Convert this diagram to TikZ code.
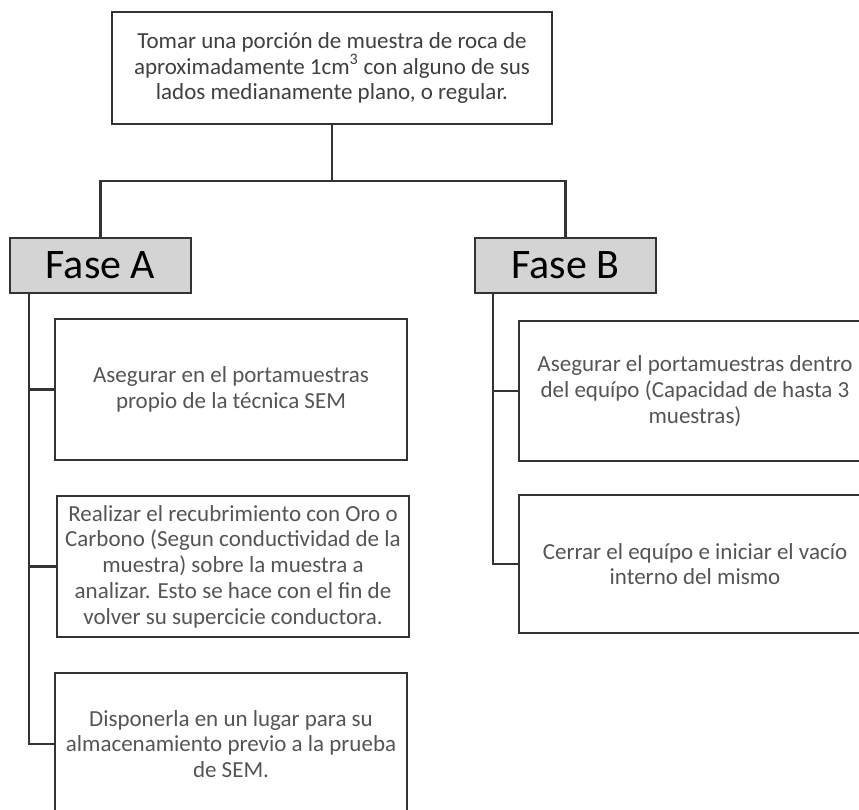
\documentclass[tikz,border=0pt]{standalone}
\usepackage{fontspec}
\setmainfont{Carlito}
\usepackage{xcolor}
\usepackage{tikz}
\usetikzlibrary{positioning,calc}

\definecolor{linegray}{HTML}{333333}
\definecolor{textgray}{HTML}{555555}
\definecolor{fasegray}{HTML}{D4D4D4}

\begin{document}
\begin{tikzpicture}[
    x=1pt, y=1pt,
    box/.style={rectangle, draw=linegray, line width=2.4pt, fill=white, align=center, minimum width=352pt, minimum height=140pt, text=textgray, font=\fontsize{23}{25.8}\selectfont},
    fase/.style={rectangle, draw=linegray, line width=2.4pt, fill=fasegray, minimum width=181pt, minimum height=55pt, font=\fontsize{42}{42}\selectfont},
    conn/.style={draw=linegray, line width=2.4pt}
]
\useasboundingbox (0,0) rectangle (859,-809);

% Start
\node[box, minimum width=440pt, minimum height=112pt, text=black!75] (sample) at (332,-68) {Tomar una porción de muestra de roca de\\aproximadamente 1cm\textsuperscript{3} con alguno de sus\\lados medianamente plano, o regular.};

% Phases
\node[fase] (faseA) at (100.5,-265.5) {Fase A};
\node[fase] (faseB) at (565.5,-265.5) {Fase B};

% Phase A steps
\node[box, minimum height=141pt] (fixA) at (231,-389.5) {Asegurar en el portamuestras\\propio de la técnica SEM};
\node[box, minimum height=141pt] (coat) at (233,-566.5) {Realizar el recubrimiento con Oro o\\Carbono (Segun conductividad de la\\muestra) sobre la muestra a\\analizar. Esto se hace con el fin de\\volver su supercicie conductora.};
\node[box, minimum height=142pt] (store) at (231,-744) {Disponerla en un lugar para su\\almacenamiento previo a la prueba\\de SEM.};

% Phase B steps
\node[box] (fixB) at (695,-391) {Asegurar el portamuestras dentro\\del equípo (Capacidad de hasta 3\\muestras)};
\node[box, minimum height=138pt] (vacuum) at (695,-564) {Cerrar el equípo e iniciar el vacío\\interno del mismo};

% Connectors
\coordinate (split) at (332,-181);
\coordinate (spineA) at (29,-293);
\coordinate (spineB) at (493,-293);
\draw[conn] (sample) -- (split);
\draw[conn] (faseA) |- (split) -| (faseB);
\draw[conn] (spineA) |- (store.west);
\draw[conn] (spineA |- fixA.west) -- (fixA.west);
\draw[conn] (spineA |- coat.west) -- (coat.west);
\draw[conn] (spineB) |- (vacuum.west);
\draw[conn] (spineB |- fixB.west) -- (fixB.west);

\end{tikzpicture}
\end{document}
